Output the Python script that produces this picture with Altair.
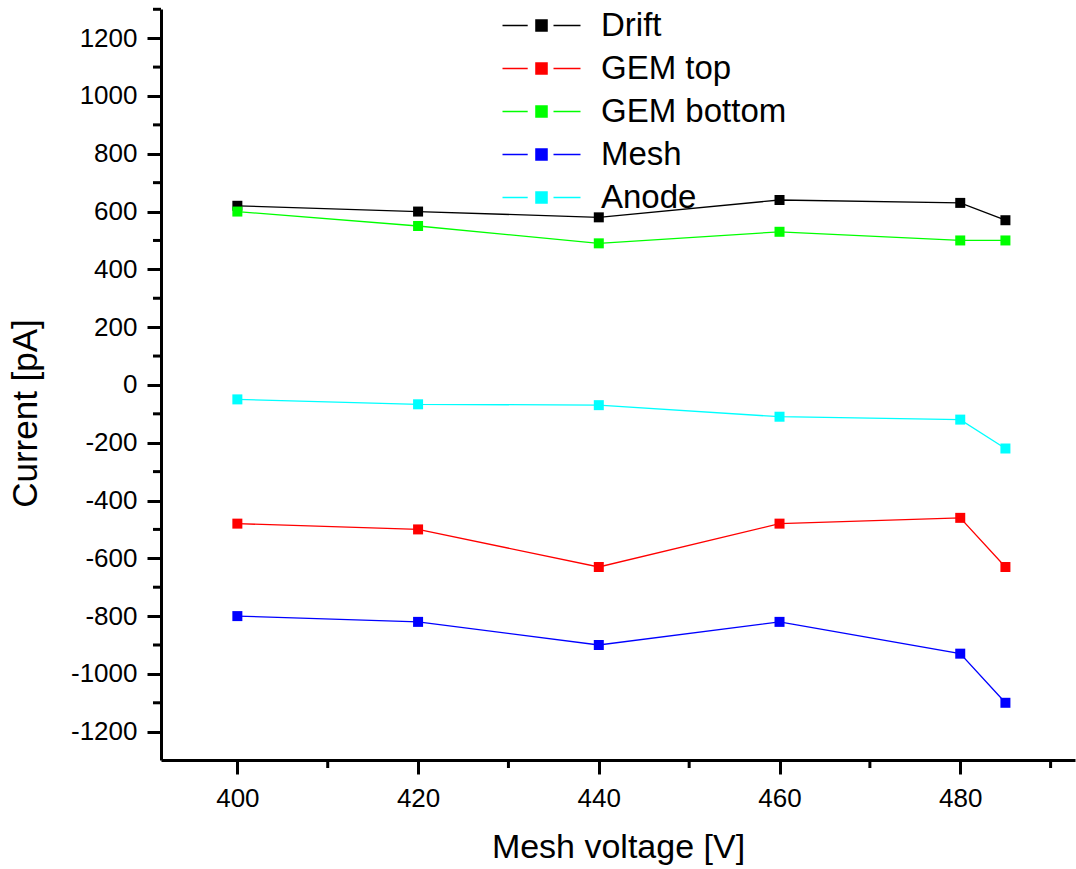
import altair as alt
import pandas as pd

# ---- data ----
voltage = [400, 420, 440, 460, 480, 485]
drift = [620, 600, 580, 640, 630, 570]
gem_top = [-480, -500, -630, -480, -460, -630]
gem_bottom = [600, 550, 490, 530, 500, 500]
mesh = [-800, -820, -900, -820, -930, -1100]
anode = [-50, -67, -70, -110, -120, -220]

series_names = ["Drift", "GEM top", "GEM bottom", "Mesh", "Anode"]
series_colors = ["#000000", "#ff0000", "#00ff00", "#0000ff", "#00ffff"]
series_values = [drift, gem_top, gem_bottom, mesh, anode]

x_ticks = [400, 420, 440, 460, 480]
x_minor = [410, 430, 450, 470, 490]
y_ticks = [-1200, -1000, -800, -600, -400, -200, 0, 200, 400, 600, 800, 1000, 1200]
y_minor = [-1100, -900, -700, -500, -300, -100, 100, 300, 500, 700, 900, 1100, 1300]

rows = []
for name, vals in zip(series_names, series_values):
    for v, c in zip(voltage, vals):
        rows.append({"series": name, "voltage": v, "current": c})
df = pd.DataFrame(rows)

W, H = 914, 751
FONT = "Liberation Sans"

xscale = alt.Scale(domain=[391.55, 492.7], nice=False, zero=False)
yscale = alt.Scale(domain=[-1298, 1301], nice=False, zero=False)

legend_symbol = "M-6.5,0L-2.3,0M-0.92,-0.92L0.92,-0.92L0.92,0.92L-0.92,0.92ZM2.0,0L6.5,0"

color = alt.Color(
    "series:N",
    scale=alt.Scale(domain=series_names, range=series_colors),
    sort=series_names,
    legend=alt.Legend(
        title=None,
        orient="none",
        legendX=364,
        legendY=0,
        symbolType=legend_symbol,
        symbolSize=144,
        symbolStrokeWidth=1.5,
        labelOffset=43,
        labelFont=FONT,
        labelFontSize=33,
        labelColor="black",
        labelLimit=0,
        rowPadding=9,
    ),
)

xaxis = alt.Axis(
    values=x_ticks, title="Mesh voltage [V]", grid=False,
    labelExpr="'' + datum.value",
    tickSize=14, tickWidth=3, tickColor="black",
    domainWidth=3, domainColor="black",
    labelFont=FONT, labelFontSize=26, labelColor="black", labelPadding=11,
    titleFont=FONT, titleFontSize=34, titleFontWeight="normal", titleColor="black",
    titlePadding=19,
)
yaxis = alt.Axis(
    values=y_ticks, title="Current [pA]", grid=False,
    labelExpr="'' + datum.value",
    tickSize=14, tickWidth=3, tickColor="black",
    domainWidth=3, domainColor="black",
    labelFont=FONT, labelFontSize=26, labelColor="black", labelPadding=10,
    titleFont=FONT, titleFontSize=35, titleFontWeight="normal", titleColor="black",
    titleX=-118, titleY=404,
)

base = alt.Chart(df)
lines = base.mark_line(strokeWidth=1.3).encode(
    x=alt.X("voltage:Q", scale=xscale, axis=xaxis),
    y=alt.Y("current:Q", scale=yscale, axis=yaxis),
    color=color,
)
points = base.mark_square(size=100, opacity=1, filled=True).encode(
    x=alt.X("voltage:Q", scale=xscale, axis=xaxis),
    y=alt.Y("current:Q", scale=yscale, axis=yaxis),
    color=color,
)

xminor = alt.Chart(pd.DataFrame({"v": x_minor})).mark_rule(strokeWidth=3, color="black").encode(
    x=alt.X("v:Q", scale=xscale, axis=xaxis),
    y=alt.value(H),
    y2=alt.value(H + 8),
)
yminor = alt.Chart(pd.DataFrame({"v": y_minor})).mark_rule(strokeWidth=3, color="black").encode(
    y=alt.Y("v:Q", scale=yscale, axis=yaxis),
    x=alt.value(-8),
    x2=alt.value(0),
)

chart = alt.layer(lines, points, xminor, yminor).properties(
    width=W, height=H,
    autosize=alt.AutoSizeParams(type="none"),
    padding={"left": 161, "top": 9, "right": 1, "bottom": 109},
    background="white",
).configure_view(stroke=None)

chart.save("out.html", embed_options={"renderer": "svg", "actions": False})
